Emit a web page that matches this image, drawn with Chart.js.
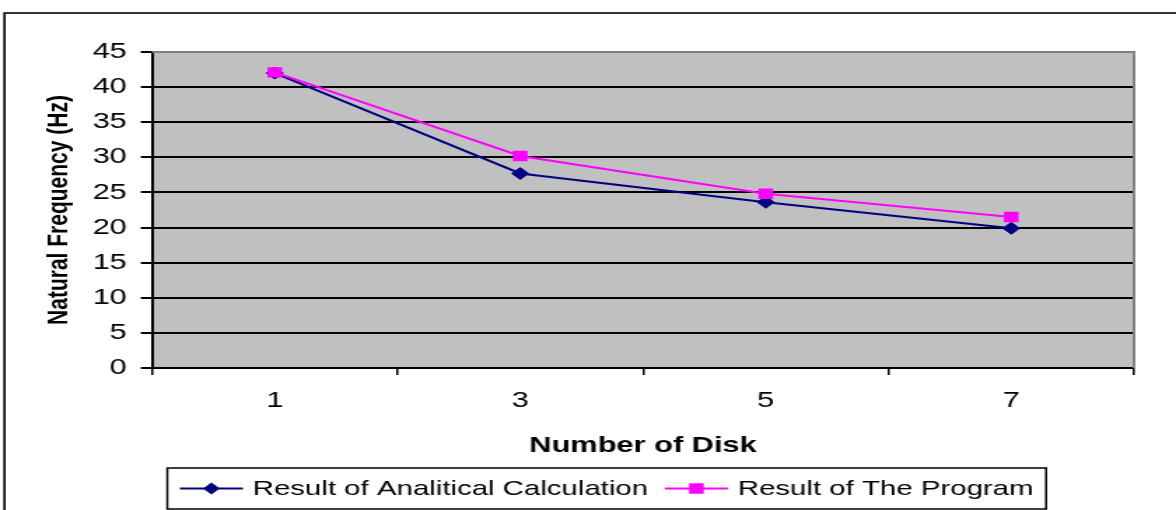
<!DOCTYPE html>
<html>
<head>
<meta charset="utf-8">
<script src="https://cdn.jsdelivr.net/npm/chart.js@4.4.1/dist/chart.umd.min.js"></script>
<style>
  html, body { margin: 0; padding: 0; background: #fff; }
  #wrap { width: 1176px; height: 510px; overflow: hidden; position: relative; }
  /* the source picture is an Excel chart stretched sideways, so draw narrow and stretch */
  #natFreqChart { transform: scaleX(1.4); transform-origin: 0 0; }
</style>
</head>
<body>
<div id="wrap"><canvas id="natFreqChart" width="840" height="510"></canvas></div>
<script>
// values
const diskLabels = ['1', '3', '5', '7'];
const analyticalFreq = [42.0, 27.7, 23.6, 19.9];
const programFreq = [42.1, 30.2, 24.8, 21.5];
const yMin = 0;
const yMax = 45;
const yStep = 5;

const FONT = '"Liberation Sans", Arial, sans-serif';

// white page, outer frame and the grey plot background
const plotBackground = {
  id: 'plotBackground',
  beforeDraw(chart) {
    const { ctx, chartArea: a } = chart;
    ctx.save();
    ctx.fillStyle = '#fff';
    ctx.fillRect(0, 0, chart.width, chart.height);
    ctx.strokeStyle = '#000';
    ctx.lineWidth = 1.6;
    ctx.strokeRect(3.2, 13, chart.width + 20, chart.height + 20);
    ctx.fillStyle = '#c0c0c0';
    ctx.fillRect(a.left, a.top, a.right - a.left, a.bottom - a.top);
    ctx.restore();
  },
  beforeDatasetsDraw(chart) {
    // grey frame along the top and right of the plot
    const { ctx, chartArea: a } = chart;
    ctx.save();
    ctx.strokeStyle = '#808080';
    ctx.lineWidth = 2;
    ctx.beginPath();
    ctx.moveTo(a.left, a.top);
    ctx.lineTo(a.right, a.top);
    ctx.lineTo(a.right, a.bottom);
    ctx.stroke();
    ctx.restore();
  }
};

function drawMarker(ctx, style, x, y, r, color) {
  ctx.fillStyle = color;
  ctx.beginPath();
  if (style === 'rectRot') {
    ctx.moveTo(x, y - r);
    ctx.lineTo(x + r, y);
    ctx.lineTo(x, y + r);
    ctx.lineTo(x - r, y);
    ctx.closePath();
  } else {
    const s = r * Math.SQRT1_2;
    ctx.rect(x - s, y - s, 2 * s, 2 * s);
  }
  ctx.fill();
}

// boxed legend under the axis title, line + marker samples like Excel
const boxLegend = {
  id: 'boxLegend',
  afterDraw(chart) {
    const { ctx } = chart;
    ctx.save();
    ctx.font = '21px ' + FONT;
    const pad = 9, sampleLen = 45, textGap = 7, itemGap = 12;
    const left = 119.5, top = 468, height = 41;
    const items = chart.data.datasets.map(ds => ({ ds, w: ctx.measureText(ds.label).width }));
    let width = pad * 2;
    items.forEach((it, i) => {
      width += sampleLen + textGap + it.w + (i ? itemGap : 0);
    });
    ctx.fillStyle = '#fff';
    ctx.fillRect(left, top, width, height);
    ctx.strokeStyle = '#000';
    ctx.lineWidth = 1.5;
    ctx.strokeRect(left, top, width, height);

    const cy = top + height / 2;
    let x = left + pad;
    items.forEach((it, i) => {
      if (i) x += itemGap;
      ctx.strokeStyle = it.ds.borderColor;
      ctx.lineWidth = 2;
      ctx.beginPath();
      ctx.moveTo(x, cy);
      ctx.lineTo(x + sampleLen, cy);
      ctx.stroke();
      drawMarker(ctx, it.ds.pointStyle, x + sampleLen / 2, cy, it.ds.pointRadius, it.ds.backgroundColor);
      x += sampleLen + textGap;
      ctx.fillStyle = '#000';
      ctx.textBaseline = 'middle';
      ctx.textAlign = 'left';
      ctx.fillText(it.ds.label, x, cy + 1);
      x += it.w;
    });
    ctx.restore();
  }
};

const ctx = document.getElementById('natFreqChart');

new Chart(ctx, {
  type: 'line',
  data: {
    labels: diskLabels,
    datasets: [
      {
        label: 'Result of Analitical Calculation',
        data: analyticalFreq,
        borderColor: '#000080',
        backgroundColor: '#000080',
        borderWidth: 2,
        pointStyle: 'rectRot',
        pointRadius: 6,
        pointBorderWidth: 1,
        tension: 0,
        order: 1,
      },
      {
        label: 'Result of The Program',
        data: programFreq,
        borderColor: '#ff00ff',
        backgroundColor: '#ff00ff',
        borderWidth: 2,
        pointStyle: 'rect',
        pointRadius: 7.4,
        pointBorderWidth: 0,
        tension: 0,
        order: 0,
      },
    ],
  },
  options: {
    responsive: false,
    animation: false,
    events: [],
    layout: { padding: { left: 30, top: 52, right: 30, bottom: 51 } },
    plugins: {
      legend: { display: false },
      tooltip: { enabled: false },
    },
    scales: {
      x: {
        offset: true,
        grid: { offset: true, drawOnChartArea: false, color: '#000', tickLength: 7, lineWidth: 1.5 },
        border: { color: '#000', width: 2 },
        ticks: { color: '#000', font: { family: FONT, size: 22 }, padding: 13, maxRotation: 0 },
        title: {
          display: true,
          text: 'Number of Disk',
          color: '#000',
          font: { family: FONT, size: 22, weight: 'bold' },
          padding: 0,
        },
        afterFit(scale) { scale.height = 91; },
      },
      y: {
        min: yMin,
        max: yMax,
        ticks: { stepSize: yStep, color: '#000', font: { family: FONT, size: 22 }, padding: 10 },
        grid: { color: '#000', lineWidth: 2, tickLength: 8 },
        border: { color: '#000', width: 2 },
        title: {
          display: true,
          text: 'Natural Frequency (Hz)',
          color: '#000',
          font: { family: FONT, size: 21, weight: 'bold' },
          padding: 0,
        },
        afterFit(scale) { scale.width = 78.6; },
      },
    },
  },
  plugins: [plotBackground, boxLegend],
});
</script>
</body>
</html>
